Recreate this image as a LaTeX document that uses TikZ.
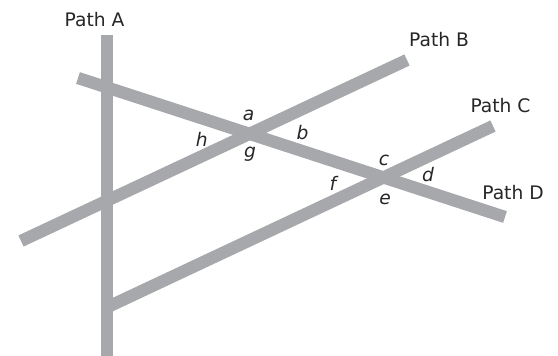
\documentclass[tikz,border=0pt]{standalone}
\usepackage{fontspec}
\setmainfont{DejaVu Sans}
\usetikzlibrary{backgrounds}
\definecolor{roadgray}{RGB}{167,168,172}
\tikzstyle{plan}=[x=0.75pt, y=-0.75pt, font=\fontsize{14}{16}\selectfont, text=black!85]
\tikzstyle{road}=[draw=roadgray, line width=9.2pt]
\tikzstyle{pname}=[inner sep=0pt]
\tikzstyle{ang}=[inner sep=0pt, font=\fontsize{14}{16}\selectfont\itshape]

\begin{document}
\begin{tikzpicture}[plan]
	\useasboundingbox (0,0) rectangle (558,356);
	%% path ends
	\coordinate (A1) at (107,35);
	\coordinate (A2) at (107,356);
	\coordinate (B1) at (21,241);
	\coordinate (B2) at (407,60);
	\coordinate (C1) at (107,307.3);
	\coordinate (C2) at (493,126);
	\coordinate (D1) at (78,78);
	\coordinate (D2) at (505,217);
	%%
	\draw[road] (A1) -- (A2);
	\draw[road] (B1) -- (B2);
	\draw[road] (C1) -- (C2);
	\draw[road] (D1) -- (D2);
	%%%%%%
	\draw (94.5,20) node[pname] (pA) {Path A};
	\draw (439,40) node[pname] (pB) {Path B};
	\draw (500.5,106) node[pname] (pC) {Path C};
	\draw (513,193) node[pname] (pD) {Path D};
	%%%%%%
	\draw (248.7,115) node[ang] (la) {a};
	\draw (302.5,133) node[ang] (lb) {b};
	\draw (250,154) node[ang] (lg) {g};
	\draw (201.7,139) node[ang] (lh) {h};
	%%
	\draw (384,160.5) node[ang] (lc) {c};
	\draw (428,175) node[ang] (ld) {d};
	\draw (385,199) node[ang] (le) {e};
	\draw (333,183) node[ang] (lf) {f};
\end{tikzpicture}
\end{document}
